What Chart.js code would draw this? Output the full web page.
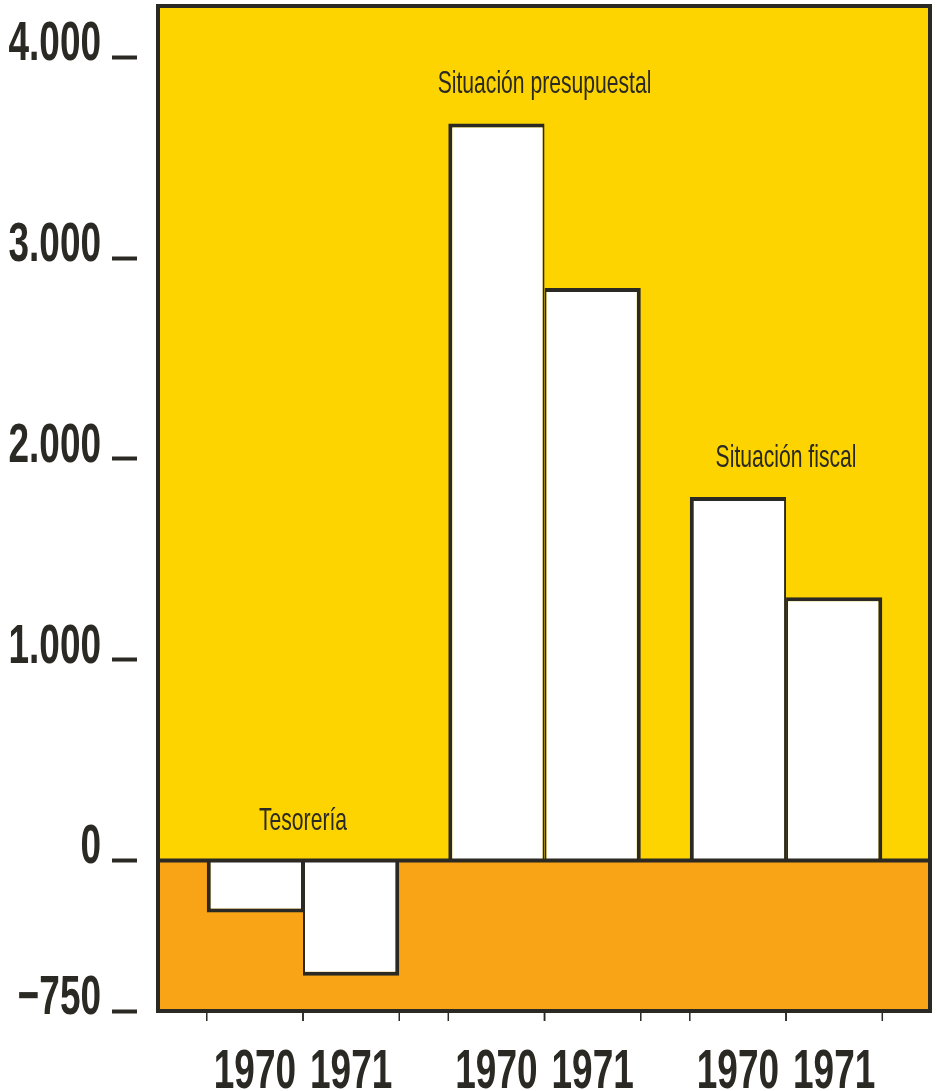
<!DOCTYPE html>
<html lang="es">
<head>
<meta charset="utf-8">
<title>Tesorería, situación presupuestal y situación fiscal 1970–1971</title>
<script src="https://cdn.jsdelivr.net/npm/chart.js@4.4.1/dist/chart.umd.min.js"></script>
<style>
  html, body { margin: 0; padding: 0; background: #fff; }
  canvas { display: block; }
</style>
</head>
<body>
<canvas id="chart" width="937" height="1091"></canvas>
<script>
// data
const groups = ['Tesorería', 'Situación presupuestal', 'Situación fiscal'];
const years = ['1970', '1971'];
const values1970 = [-260, 3670, 1810];
const values1971 = [-575, 2850, 1310];
const yTicks = [-750, 0, 1000, 2000, 3000, 4000];
const yTickLabels = ['−750', '0', '1.000', '2.000', '3.000', '4.000'];

const INK = '#2a2923';
const YELLOW = '#fdd400';
const ORANGE = '#f8a416';
const FAMILY = "'Liberation Sans', Arial, sans-serif";
// the original uses a condensed face; none is installed, so squeeze horizontally
const SQUEEZE = 0.66;

const series = [values1970, values1971];

const datasets = series.map((vals, i) => ({
  label: years[i],
  data: vals.map((v, g) => ({ x: g + 1, y: v })),
  backgroundColor: '#ffffff',
  borderColor: INK,
  // shared edge between the two years is split so it isn't double thick
  borderWidth: i === 0
    ? { left: 4, right: 2, top: 4, bottom: 4 }
    : { left: 2, right: 4, top: 4, bottom: 4 },
  borderSkipped: 'start',
}));

function squeezedText(ctx, text, x, y, align, font) {
  ctx.save();
  ctx.translate(x, y);
  ctx.scale(SQUEEZE, 1);
  ctx.font = font;
  ctx.textAlign = align;
  ctx.textBaseline = 'alphabetic';
  ctx.fillText(text, 0, 0);
  ctx.restore();
}

// yellow above zero, orange below
const panelBackground = {
  id: 'panelBackground',
  beforeDraw(chart) {
    const { ctx, chartArea: a, scales } = chart;
    const zero = scales.y.getPixelForValue(0);
    ctx.save();
    ctx.fillStyle = YELLOW;
    ctx.fillRect(a.left, a.top, a.width, zero - a.top);
    ctx.fillStyle = ORANGE;
    ctx.fillRect(a.left, zero, a.width, a.bottom - zero);
    ctx.restore();
  },
};

// frame, zero line, bar edge ticks, axis labels and group titles
const panelOverlay = {
  id: 'panelOverlay',
  afterDatasetsDraw(chart) {
    const { ctx, chartArea: a, scales } = chart;
    const zero = scales.y.getPixelForValue(0);
    ctx.save();
    ctx.strokeStyle = INK;
    ctx.fillStyle = INK;
    ctx.lineWidth = 4;
    ctx.beginPath();
    ctx.moveTo(a.left, zero);
    ctx.lineTo(a.right, zero);
    ctx.stroke();
    ctx.strokeRect(a.left, a.top, a.width, a.height);

    ctx.lineWidth = 1.5;
    chart.data.datasets.forEach((ds, i) => {
      chart.getDatasetMeta(i).data.forEach(bar => {
        const { x, width } = bar.getProps(['x', 'width'], true);
        [x - width / 2, x + width / 2].forEach(px => {
          ctx.beginPath();
          ctx.moveTo(px, a.bottom + 2);
          ctx.lineTo(px, a.bottom + 10);
          ctx.stroke();
        });
        // year under each bar
        squeezedText(ctx, ds.label, x, a.bottom + 77, 'center', `bold 56px ${FAMILY}`);
      });
    });

    // y tick labels sit on the tick mark, like "4.000 _"
    scales.y.ticks.forEach(t => {
      const y = scales.y.getPixelForValue(t.value);
      const label = yTickLabels[yTicks.indexOf(t.value)];
      squeezedText(ctx, label, scales.y.right - 57, y + 3, 'right', `bold 56px ${FAMILY}`);
    });

    groups.forEach((name, g) => {
      const top = Math.max(0, values1970[g], values1971[g]);
      const x = scales.x.getPixelForValue(g + 1);
      const y = scales.y.getPixelForValue(top) - 30;
      squeezedText(ctx, name, x, y, 'center', `32px ${FAMILY}`);
    });
    ctx.restore();
  },
};

new Chart(document.getElementById('chart'), {
  type: 'bar',
  data: { datasets },
  options: {
    responsive: false,
    animation: false,
    devicePixelRatio: 1,
    categoryPercentage: 0.797,
    barPercentage: 1,
    layout: { padding: { top: 6, right: 7, left: 0, bottom: 0 } },
    plugins: {
      legend: { display: false },
      tooltip: { enabled: false },
    },
    scales: {
      x: {
        type: 'linear',
        offset: false,
        min: 0.3996,
        max: 3.596,
        afterBuildTicks: s => { s.ticks = groups.map((_, g) => ({ value: g + 1 })); },
        afterFit: s => { s.height = 80; s.paddingLeft = 0; s.paddingRight = 0; },
        grid: { display: false, drawTicks: false, offset: false },
        border: { display: false },
        ticks: { display: false },
      },
      y: {
        min: -750,
        max: 4255,
        afterBuildTicks: s => { s.ticks = yTicks.map(v => ({ value: v })); },
        afterFit: s => { s.width = 158; s.paddingTop = 0; s.paddingBottom = 0; },
        grid: {
          drawOnChartArea: false,
          drawTicks: true,
          tickLength: 46,
          tickWidth: 4,
          tickColor: INK,
          tickBorderDash: [25, 40],
          color: INK,
        },
        border: { display: false },
        ticks: { display: false },
      },
    },
  },
  plugins: [panelBackground, panelOverlay],
});
</script>
</body>
</html>
